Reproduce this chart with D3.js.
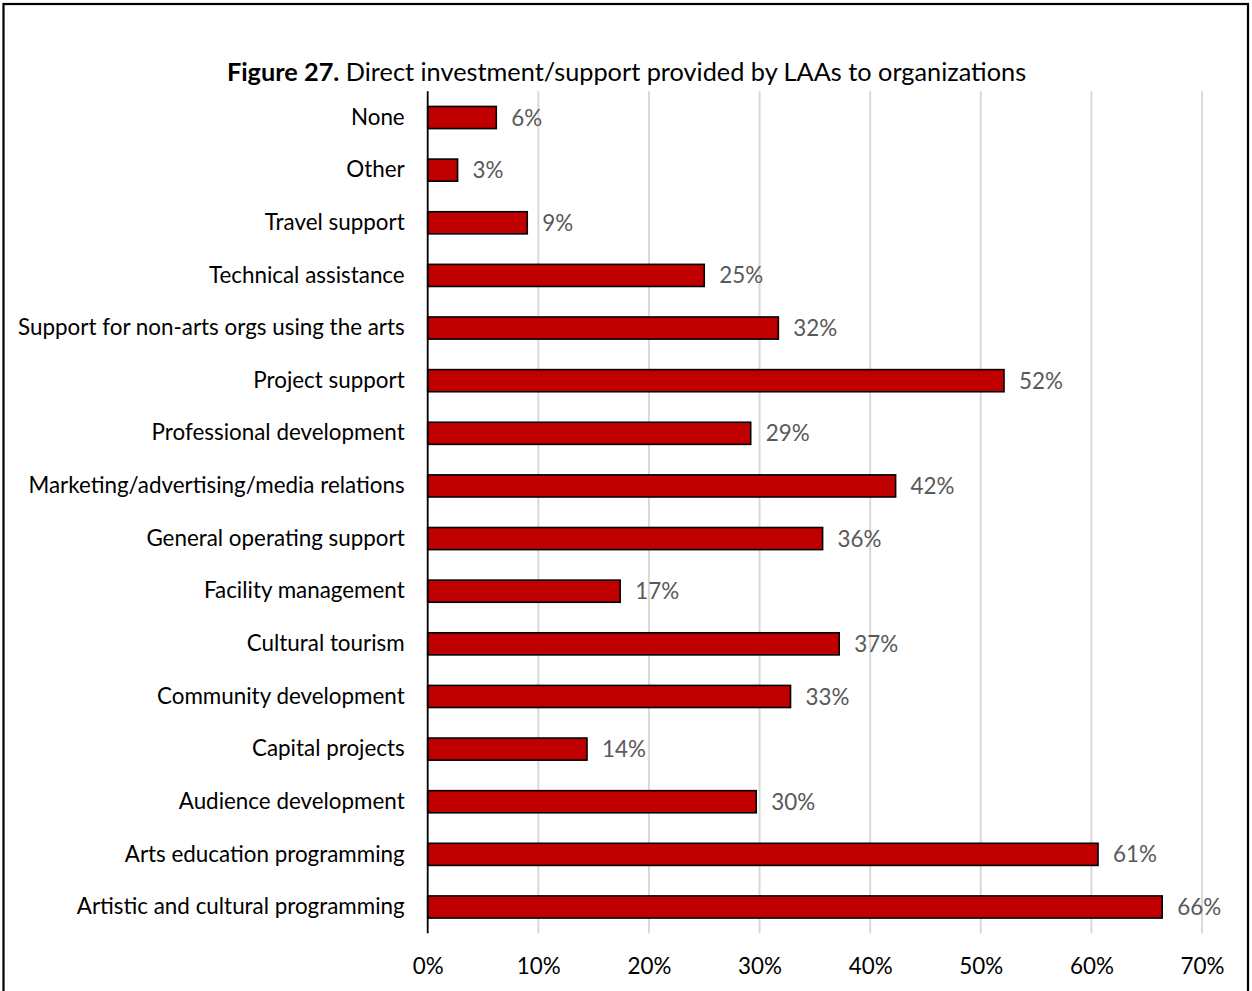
<!DOCTYPE html>
<html>
<head>
<meta charset="utf-8">
<script src="https://cdn.jsdelivr.net/npm/d3@7"></script>
<style>
  html, body { margin: 0; padding: 0; background: #fff; }
  svg { display: block; font-family: Lato, "Open Sans", sans-serif; }
</style>
</head>
<body>
<svg id="chart" width="1252" height="991"></svg>
<script>
// Share of LAAs providing each kind of direct investment/support (percent)
const categories = [
  "None",
  "Other",
  "Travel support",
  "Technical assistance",
  "Support for non-arts orgs using the arts",
  "Project support",
  "Professional development",
  "Marketing/advertising/media relations",
  "General operating support",
  "Facility management",
  "Cultural tourism",
  "Community development",
  "Capital projects",
  "Audience development",
  "Arts education programming",
  "Artistic and cultural programming"
];
const values = [6.2, 2.7, 9.0, 25.0, 31.7, 52.1, 29.2, 42.3, 35.7, 17.4, 37.2, 32.8, 14.4, 29.7, 60.6, 66.4];
const tickValues = [0, 10, 20, 30, 40, 50, 60, 70];

const titleBold = "Figure 27.";
const titleRest = " Direct investment/support provided by LAAs to organizations";

const svg = d3.select("#chart");
const W = 1252, H = 991;
const labelSize = 22.4;

// outer frame
svg.append("rect")
  .attr("x", 3.5).attr("y", 4)
  .attr("width", 1244.5).attr("height", H + 10)
  .attr("fill", "none").attr("stroke", "#000").attr("stroke-width", 2.2);

// title
svg.append("text")
  .attr("x", 626.5).attr("y", 81)
  .attr("text-anchor", "middle")
  .attr("font-size", 25.3)
  .attr("fill", "#000")
  .call(t => {
    t.append("tspan").attr("font-weight", "bold").text(titleBold);
    t.append("tspan").text(titleRest);
  });

const x = d3.scaleLinear().domain([0, 70]).range([427.7, 1202]);
const y = d3.scaleBand().domain(categories).range([91.2, 933.3])
  .paddingInner(0.58).paddingOuter(0.29);

const plotTop = 91.2, plotBottom = 933.3;

// vertical gridlines
svg.append("g").selectAll("line")
  .data(tickValues.filter(d => d > 0))
  .join("line")
  .attr("x1", d => x(d)).attr("x2", d => x(d))
  .attr("y1", plotTop).attr("y2", plotBottom)
  .attr("stroke", "#d9d9d9").attr("stroke-width", 2);

// x tick labels
const xAxis = d3.axisBottom(x).tickValues(tickValues).tickFormat(d => d + "%").tickSize(0).tickPadding(0);
const gx = svg.append("g").attr("transform", `translate(0, ${plotBottom + 25})`).call(xAxis);
gx.select(".domain").remove();
gx.selectAll("text")
  .attr("font-family", "Lato, 'Open Sans', sans-serif")
  .attr("font-size", labelSize)
  .attr("fill", "#000");

// bars
svg.append("g").selectAll("rect")
  .data(categories.map((c, i) => ({ c, v: values[i] })))
  .join("rect")
  .attr("x", x(0))
  .attr("y", d => y(d.c))
  .attr("width", d => x(d.v) - x(0))
  .attr("height", y.bandwidth())
  .attr("fill", "#c00000")
  .attr("stroke", "#000")
  .attr("stroke-width", 1.6);

// value labels
svg.append("g").selectAll("text")
  .data(categories.map((c, i) => ({ c, v: values[i] })))
  .join("text")
  .attr("x", d => x(d.v) + 15)
  .attr("y", d => y(d.c) + y.bandwidth() / 2)
  .attr("dy", "0.36em")
  .attr("font-size", labelSize)
  .attr("fill", "#595959")
  .text(d => Math.round(d.v) + "%");

// category axis
const yAxis = d3.axisLeft(y).tickSize(0).tickPadding(23);
const gy = svg.append("g").attr("transform", `translate(${x(0)},0)`).call(yAxis);
gy.select(".domain").remove();
gy.selectAll("text")
  .attr("font-family", "Lato, 'Open Sans', sans-serif")
  .attr("font-size", labelSize)
  .attr("fill", "#000");

// zero baseline
svg.append("line")
  .attr("x1", x(0)).attr("x2", x(0))
  .attr("y1", plotTop).attr("y2", plotBottom)
  .attr("stroke", "#000").attr("stroke-width", 1.8);
</script>
</body>
</html>
